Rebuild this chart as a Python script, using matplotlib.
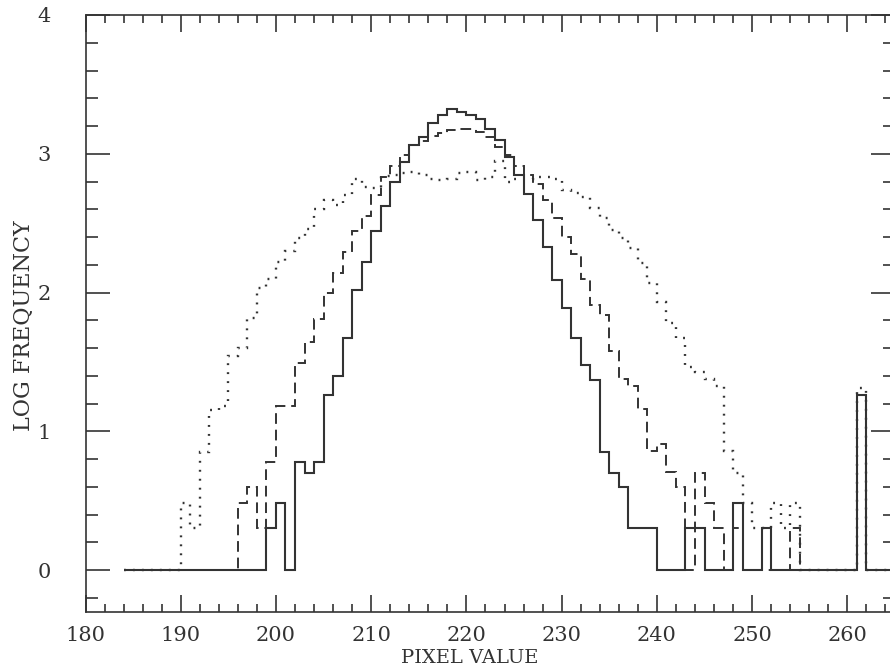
import numpy as np
import matplotlib
matplotlib.use("Agg")
import matplotlib.pyplot as plt
from matplotlib.ticker import MultipleLocator

# histogram bins of width 1, pixel values 184 .. 264
bin_edges = np.arange(184, 266)

# log frequency per bin (solid / dashed / dotted histograms)
solid = [
    0, 0, 0, 0, 0, 0, 0, 0, 0, 0,                               # 184-193
    0, 0, 0, 0, 0, 0.30, 0.48, 0, 0.78, 0.70,                   # 194-203
    0.78, 1.26, 1.40, 1.67, 2.02, 2.22, 2.44, 2.62, 2.80, 2.94, # 204-213
    3.06, 3.12, 3.22, 3.28, 3.32, 3.30, 3.28, 3.25, 3.18, 3.10, # 214-223
    2.98, 2.85, 2.71, 2.52, 2.33, 2.09, 1.89, 1.67, 1.48, 1.37, # 224-233
    0.85, 0.70, 0.60, 0.30, 0.30, 0.30, 0, 0, 0, 0.30,          # 234-243
    0.30, 0, 0, 0, 0.48, 0, 0, 0.30, 0, 0,                      # 244-253
    0, 0, 0, 0, 0, 0, 0, 1.26, 0, 0,                            # 254-263
    0,                                                          # 264
]
dashed = [
    0, 0, 0, 0, 0, 0, 0, 0, 0, 0,
    0, 0, 0.48, 0.60, 0.30, 0.78, 1.18, 1.18, 1.49, 1.64,
    1.81, 2.00, 2.14, 2.29, 2.44, 2.55, 2.70, 2.83, 2.91, 2.99,
    3.06, 3.09, 3.13, 3.15, 3.17, 3.18, 3.18, 3.16, 3.12, 3.05,
    2.99, 2.91, 2.85, 2.78, 2.67, 2.535, 2.40, 2.28, 2.10, 1.91,
    1.84, 1.58, 1.38, 1.33, 1.16, 0.86, 0.91, 0.71, 0.60, 0,
    0.70, 0.48, 0.30, 0, 0.30, 0, 0, 0, 0, 0,
    0.30, 0, 0, 0, 0, 0, 0, 1.26, 0, 0,
    0,
]
dotted = [
    0, 0, 0, 0, 0, 0, 0.48, 0.30, 0.85, 1.15,
    1.18, 1.54, 1.60, 1.82, 2.03, 2.10, 2.22, 2.30, 2.39, 2.46,
    2.60, 2.67, 2.63, 2.70, 2.82, 2.76, 2.75, 2.84, 2.85, 2.86,
    2.87, 2.85, 2.82, 2.81, 2.82, 2.86, 2.87, 2.81, 2.83, 2.95,
    2.80, 2.82, 2.82, 2.83, 2.83, 2.82, 2.74, 2.72, 2.69, 2.61,
    2.54, 2.45, 2.39, 2.32, 2.21, 2.07, 1.93, 1.78, 1.67, 1.46,
    1.43, 1.38, 1.33, 0.86, 0.70, 0.48, 0.30, 0.30, 0.48, 0.30,
    0.48, 0, 0, 0, 0, 0, 0, 1.31, 0, 0,
    0,
]

plt.rcParams['font.family'] = ['DejaVu Serif']

fig = plt.figure(figsize=(8.9, 6.72), dpi=100)
# right edge of the frame runs slightly past the picture edge
ax = fig.add_axes([85.5 / 890, (672 - 611.7) / 672, 809.5 / 890, 596.7 / 672])

ax.stairs(dotted, bin_edges, baseline=None, color='#333333', lw=1.7,
          linestyle=(0, (0.8, 3.0)))
ax.stairs(dashed, bin_edges, baseline=None, color='#333333', lw=1.4,
          linestyle=(0, (5.5, 3)))
ax.stairs(solid, bin_edges, baseline=None, color='#333333', lw=1.5)

ax.set_xlim(180, 265)
ax.set_ylim(-0.3, 4)
ax.xaxis.set_major_locator(MultipleLocator(10))
ax.xaxis.set_minor_locator(MultipleLocator(2))
ax.yaxis.set_major_locator(MultipleLocator(1))
ax.yaxis.set_minor_locator(MultipleLocator(0.2))

ax.tick_params(axis='both', which='both', direction='in', top=True, right=True,
               color='#333333', width=1.2, labelcolor='#333333')
ax.tick_params(axis='x', which='major', length=12, pad=10, labelsize=15)
ax.tick_params(axis='x', which='minor', length=6)
ax.tick_params(axis='y', which='major', length=17, pad=25, labelsize=15)
ax.tick_params(axis='y', which='minor', length=8.5)
for s in ax.spines.values():
    s.set_linewidth(1.2)
    s.set_color('#333333')

ax.set_xlabel('PIXEL VALUE', fontsize=14, color='#333333')
ax.set_ylabel('LOG FREQUENCY', fontsize=16, color='#333333')
ax.xaxis.set_label_coords(0.475, -0.062)
ax.yaxis.set_label_coords(-0.062, 0.48)

fig.savefig('out.png', dpi=100)
